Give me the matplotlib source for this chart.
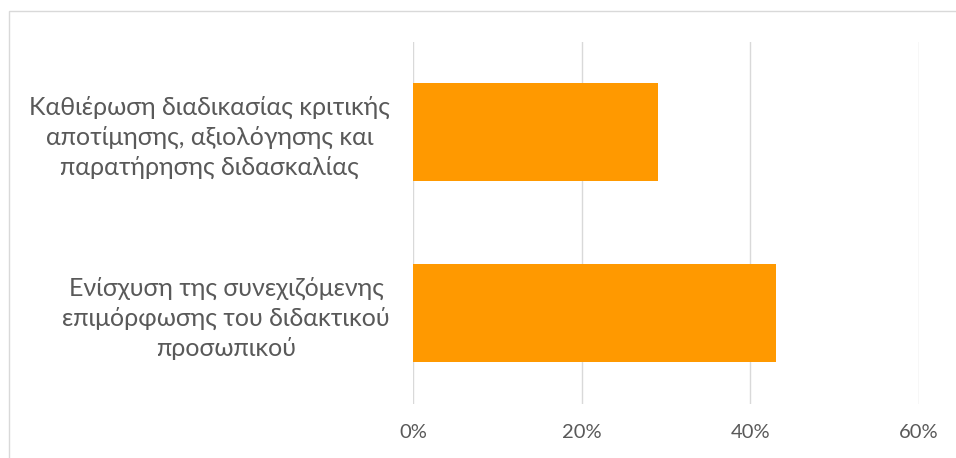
import matplotlib
matplotlib.use("Agg")
import matplotlib.pyplot as plt
from matplotlib.patches import Rectangle
from matplotlib.ticker import FuncFormatter

categories = [
    "Ενίσχυση της συνεχιζόμενης\nεπιμόρφωσης του διδακτικού\nπροσωπικού",
    "Καθιέρωση διαδικασίας κριτικής\nαποτίμησης, αξιολόγησης και\nπαρατήρησης διδασκαλίας",
]
values = [0.43, 0.29]
x_ticks = [0.0, 0.2, 0.4, 0.6]

plt.rcParams['font.family'] = ['Lato', 'Noto Sans', 'DejaVu Sans']

fig = plt.figure(figsize=(9.56, 4.58), dpi=100)
fig.patch.set_facecolor('white')

# outer chart border
fig.patches.append(Rectangle((9/956, -0.1), 1.2, 1 - 11/458 + 0.1,
                             transform=fig.transFigure, fill=False,
                             edgecolor='#d9d9d9', linewidth=1.0))

ax = fig.add_axes([413/956, 54.5/458, 506/956, 362/458])
ypos = list(range(len(categories)))
ax.barh(ypos, values, height=0.54, color='#ff9900', zorder=3)
ax.set_xlim(0, 0.6)
ax.set_ylim(-0.5, len(categories) - 0.5)
ax.set_xticks(x_ticks)
ax.xaxis.set_major_formatter(FuncFormatter(lambda v, p: f"{v*100:.0f}%"))
ax.set_yticks(ypos)
ax.set_yticklabels(categories, ha='right', multialignment='center', linespacing=1.36)
ax.grid(axis='x', color='#d9d9d9', linewidth=1.0, zorder=0)
for s in ax.spines.values():
    s.set_visible(False)
ax.tick_params(axis='x', length=0, pad=15, labelsize=14.5, labelcolor='#595959')
ax.tick_params(axis='y', length=0, pad=16.5, labelsize=18, labelcolor='#595959')

fig.savefig("out.png", dpi=100, facecolor='white')
